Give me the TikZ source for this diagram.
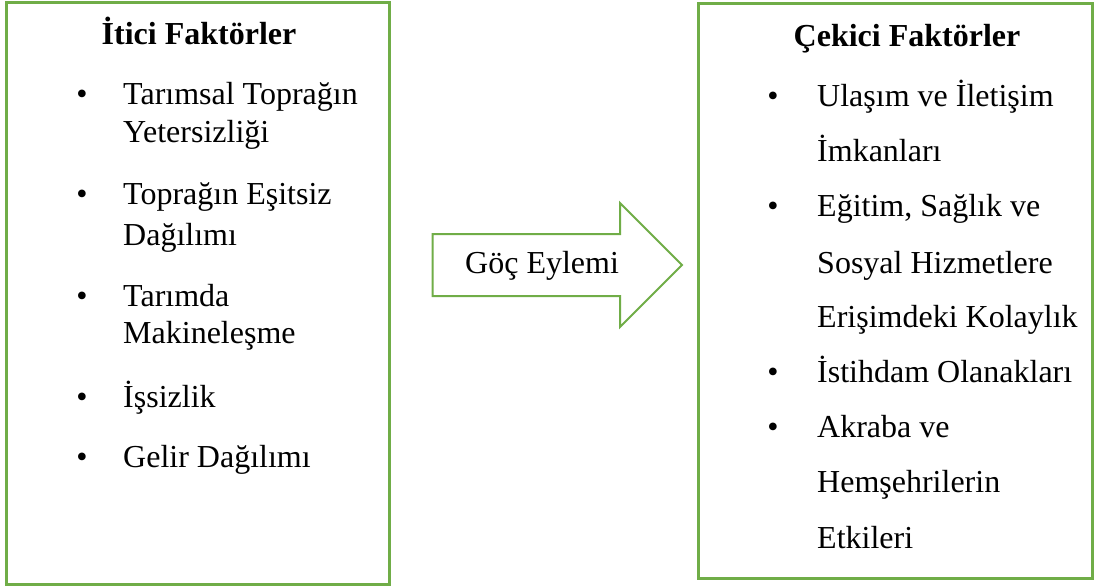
\documentclass[tikz,border=0pt]{standalone}
\usepackage{fontspec}
\setmainfont{Liberation Serif}
\definecolor{boxgreen}{HTML}{70AD47}
\begin{document}
\begin{tikzpicture}[x=1pt,y=-1pt,
  txt/.style={anchor=base west,inner sep=0pt,font=\fontsize{32}{38}\selectfont},
  ttl/.style={anchor=base,inner sep=0pt,font=\fontsize{32}{38}\selectfont\bfseries},
  bul/.style={anchor=base,inner sep=0pt,font=\fontsize{32}{38}\selectfont},
  frame/.style={draw=boxgreen,line width=3pt},
  arrowshape/.style={draw=boxgreen,line width=2pt,line join=miter,fill=white}]
\useasboundingbox (0,0) rectangle (1100,588);
% left box
\draw[frame] (6.3,3) rectangle (389.5,584.7);
\node[ttl] (lt) at (199,45) {İtici Faktörler};
\foreach \y/\n in {105/lb1,205/lb2,306/lb3,407/lb4,467/lb5}
  \node[bul] (\n) at (82,\y) {•};
\node[txt] (l1a) at (123,105) {Tarımsal Toprağın};
\node[txt] (l1b) at (123,143) {Yetersizliği};
\node[txt] (l2a) at (123,205) {Toprağın Eşitsiz};
\node[txt] (l2b) at (123,245) {Dağılımı};
\node[txt] (l3a) at (123,306) {Tarımda};
\node[txt] (l3b) at (123,343) {Makineleşme};
\node[txt] (l4) at (123,407) {İşsizlik};
\node[txt] (l5) at (123,467) {Gelir Dağılımı};
% arrow
\draw[arrowshape] (432.7,234) -- (620,234) -- (620,203) -- (682,265) -- (620,327) -- (620,296) -- (432.7,296) -- cycle;
\node[txt] (ar) at (465,273) {Göç Eylemi};
% right box
\draw[frame] (698.7,3.8) rectangle (1092,578.7);
\node[ttl] (rt) at (907,47) {Çekici Faktörler};
\foreach \y/\n in {107/rb1,217/rb2,382/rb3,437/rb4}
  \node[bul] (\n) at (773,\y) {•};
\node[txt] (r1a) at (817,107) {Ulaşım ve İletişim};
\node[txt] (r1b) at (817,162) {İmkanları};
\node[txt] (r2a) at (817,217) {Eğitim, Sağlık ve};
\node[txt] (r2b) at (817,273) {Sosyal Hizmetlere};
\node[txt] (r2c) at (817,327) {Erişimdeki Kolaylık};
\node[txt] (r3) at (817,382) {İstihdam Olanakları};
\node[txt] (r4a) at (817,437) {Akraba ve};
\node[txt] (r4b) at (817,492) {Hemşehrilerin};
\node[txt] (r4c) at (817,548) {Etkileri};
\end{tikzpicture}
\end{document}
